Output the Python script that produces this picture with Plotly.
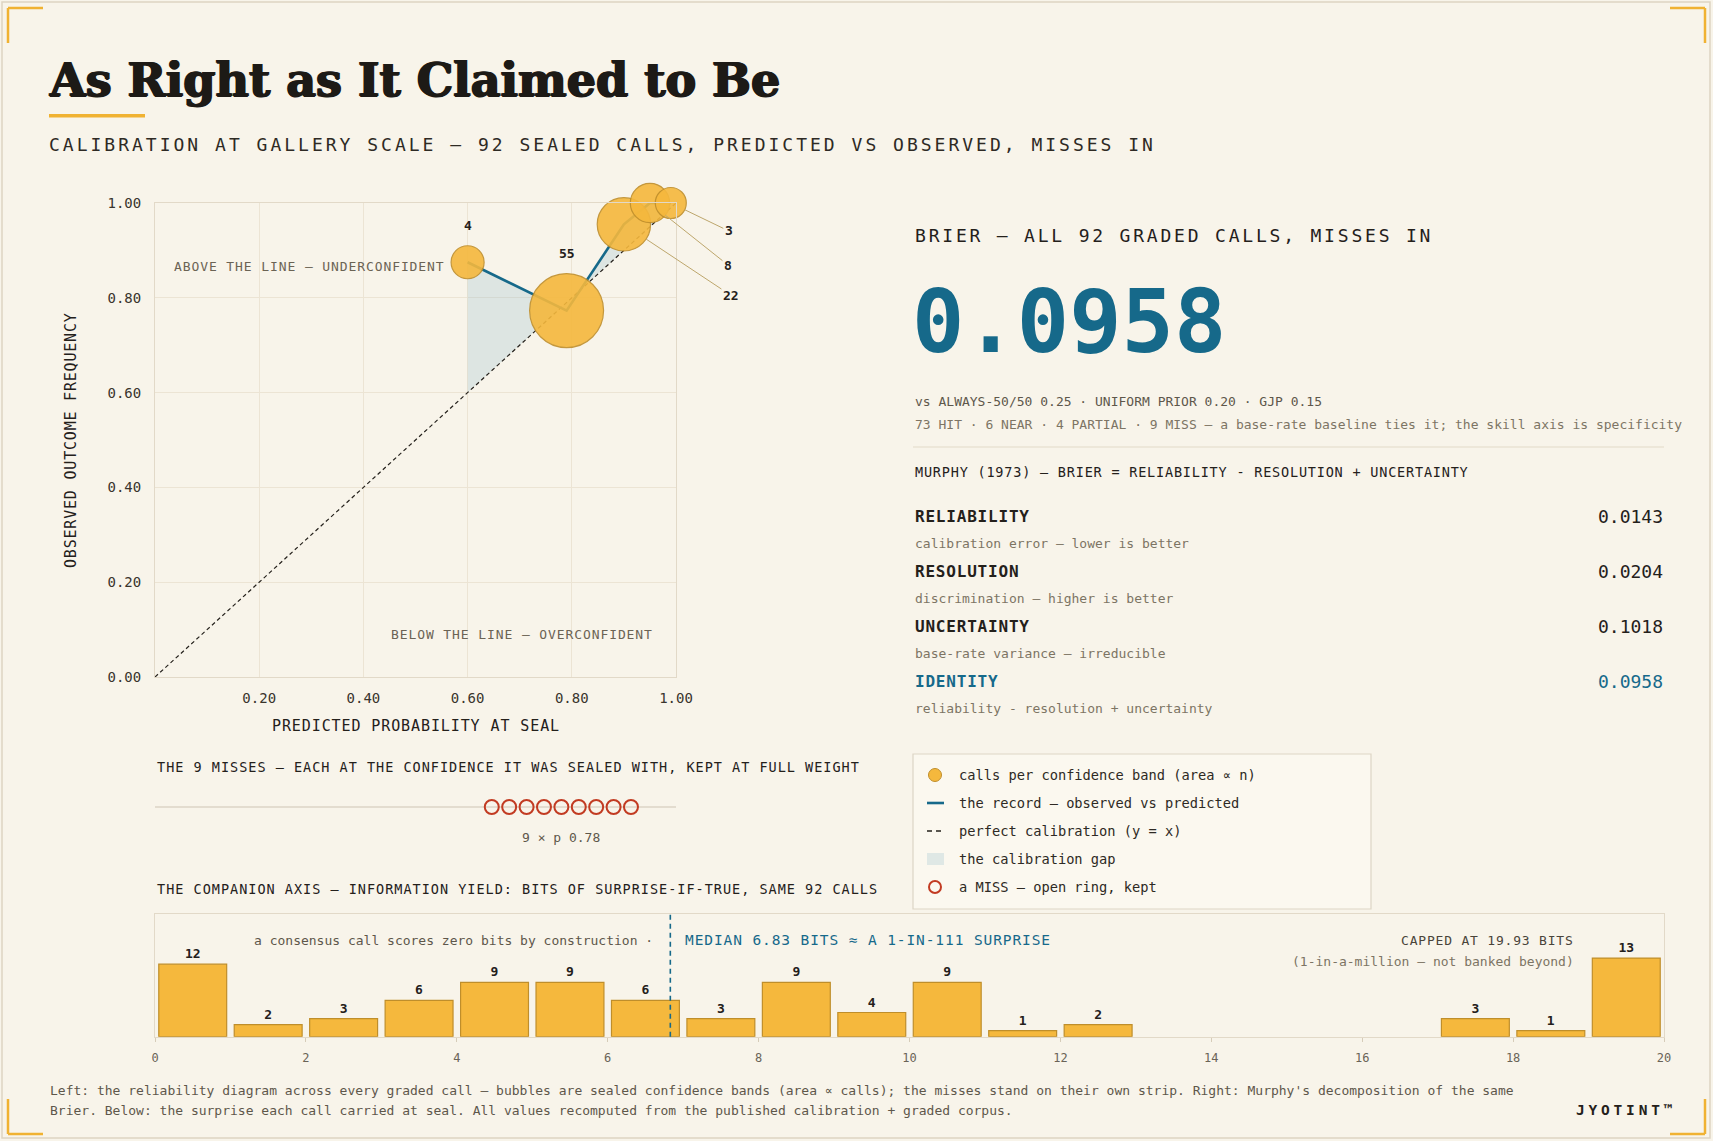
import numpy as np
import plotly.graph_objects as go

# === Dados === #
band_p = [0.60, 0.79, 0.90, 0.95, 0.99]        # predicted probability at seal
band_obs = [0.875, 0.773, 0.955, 1.00, 1.00]   # observed outcome frequency
band_n = [4, 55, 22, 8, 3]                     # calls per confidence band

miss_p = [0.78, 0.78, 0.78, 0.78, 0.78, 0.78, 0.78, 0.78, 0.78]

bits_left = list(range(20))                    # left edge of each 1-bit bin
bits_counts = [12, 2, 3, 6, 9, 9, 6, 3, 9, 4, 9, 1, 2, 0, 0, 0, 0, 3, 1, 13]
bits_median = 6.83

brier = 0.0958
murphy_terms = ["RELIABILITY", "RESOLUTION", "UNCERTAINTY", "IDENTITY"]
murphy_values = [0.0143, 0.0204, 0.1018, 0.0958]
murphy_notes = [
    "calibration error — lower is better",
    "discrimination — higher is better",
    "base-rate variance — irreducible",
    "reliability - resolution + uncertainty",
]

p_ticks = [0.2, 0.4, 0.6, 0.8, 1.0]
obs_ticks = [0.0, 0.2, 0.4, 0.6, 0.8, 1.0]
bits_ticks = [0, 2, 4, 6, 8, 10, 12, 14, 16, 18, 20]

# === Estilo === #
W, H = 1713, 1141
BG = "#f8f4ea"
INK = "#24201b"
GREY = "#5e574b"
SOFT = "#7d7464"
TEAL = "#16698a"
GOLD = "#f5b83d"
GOLD_EDGE = "#bf8e2b"
RED = "#c23b22"
RULE = "#e2d9c8"
GRID = "#ece4d4"
GAP = "rgba(150,190,205,0.28)"
MONO = "DejaVu Sans Mono"


def fx(p):
    return p / W


def fy(p):
    return 1 - p / H


def sp(text, px):
    return f"<span style='letter-spacing:{px}px'>{text}</span>"


annotations = []
shapes = []


def note(x, y, text, size=13, color=INK, anchor="left", weight="normal",
         family=MONO, **kw):
    annotations.append(dict(
        x=fx(x), y=fy(y), xref="paper", yref="paper", text=text,
        showarrow=False, xanchor=anchor, yanchor="middle",
        font=dict(family=family, size=size, color=color, weight=weight, **kw.pop("font", {})), **kw))


def pline(x0, y0, x1, y1, color, width=1, dash="solid"):
    shapes.append(dict(type="line", xref="paper", yref="paper",
                       x0=fx(x0), y0=fy(y0), x1=fx(x1), y1=fy(y1),
                       line=dict(color=color, width=width, dash=dash)))


fig = go.Figure()

# --- reliability diagram --- #
diag = [0, 1]
fig.add_trace(go.Scatter(
    x=band_p + band_p[::-1], y=band_obs + band_p[::-1],
    fill="toself", fillcolor=GAP, line=dict(width=0), mode="lines",
    hoverinfo="skip", xaxis="x", yaxis="y"))
fig.add_trace(go.Scatter(
    x=diag, y=diag, mode="lines", line=dict(color=INK, width=1.2, dash="4px,3px"),
    xaxis="x", yaxis="y", cliponaxis=False))
fig.add_trace(go.Scatter(
    x=band_p, y=band_obs, mode="lines", line=dict(color=TEAL, width=2.6),
    xaxis="x", yaxis="y", cliponaxis=False))
diam = [17.9 + 7.56 * np.sqrt(n) for n in band_n]
order = np.argsort(band_n)[::-1]
fig.add_trace(go.Scatter(
    x=[band_p[i] for i in order], y=[band_obs[i] for i in order], mode="markers",
    marker=dict(size=[diam[i] for i in order], color=GOLD, opacity=0.9,
                line=dict(color=GOLD_EDGE, width=1.2)),
    xaxis="x", yaxis="y", cliponaxis=False))

leader = {22: (107, 71), 8: (78, 62), 3: (58, 28)}
for p, o, n, d in zip(band_p, band_obs, band_n, diam):
    if n in leader:
        ax, ay = leader[n]
        annotations.append(dict(
            x=p, y=o, xref="x", yref="y", text=str(n), showarrow=True,
            arrowhead=0, arrowwidth=1, arrowcolor="#bda66c", ax=ax, ay=ay,
            standoff=d / 2, font=dict(family=MONO, size=13, color=INK, weight="bold")))
    else:
        annotations.append(dict(
            x=p, y=o, xref="x", yref="y", text=str(n), showarrow=False,
            yshift=d / 2 + 20, font=dict(family=MONO, size=13, color=INK, weight="bold")))

note(447, 266, sp("ABOVE THE LINE — UNDERCONFIDENT", 0.9), size=13, color="#6b6354", anchor="right")
note(655, 634, sp("BELOW THE LINE — OVERCONFIDENT", 0.9), size=13, color="#6b6354", anchor="right")
note(415.5, 726, sp("PREDICTED PROBABILITY AT SEAL", 0.9), size=15, color=INK, anchor="center")
annotations.append(dict(
    x=fx(71), y=fy(440), xref="paper", yref="paper", text=sp("OBSERVED OUTCOME FREQUENCY", 0.8),
    showarrow=False, textangle=-90, xanchor="center", yanchor="middle",
    font=dict(family=MONO, size=15, color=INK)))

# --- misses strip --- #
step = 17.4 / 521
miss_x = [p + (i - (len(miss_p) - 1) / 2) * step for i, p in enumerate(miss_p)]
shapes.append(dict(type="line", xref="x2", yref="y2", x0=0, x1=1, y0=0, y1=0,
                   line=dict(color="#ddd5c6", width=1.5), layer="below"))
fig.add_trace(go.Scatter(
    x=miss_x, y=[0] * len(miss_p), mode="markers",
    marker=dict(symbol="circle-open", size=14, color=RED, line=dict(width=2)),
    xaxis="x2", yaxis="y2", cliponaxis=False))
annotations.append(dict(
    x=miss_p[0], y=fy(837), xref="x2", yref="paper",
    text=f"{len(miss_p)} × p {miss_p[0]:.2f}", showarrow=False, yanchor="middle",
    font=dict(family=MONO, size=13, color=GREY)))
note(155, 767, sp("THE 9 MISSES — EACH AT THE CONFIDENCE IT WAS SEALED WITH, KEPT AT FULL WEIGHT", 1.0),
     size=13.5, color=INK)
note(155, 889, sp("THE COMPANION AXIS — INFORMATION YIELD: BITS OF SURPRISE-IF-TRUE, SAME 92 CALLS", 1.0),
     size=13.5, color=INK)

# --- bits histogram --- #
bx = [b + 0.5 for b, c in zip(bits_left, bits_counts) if c > 0]
by = [c for c in bits_counts if c > 0]
fig.add_trace(go.Bar(
    x=bx, y=by, width=0.9, text=[str(c) for c in by], textposition="outside",
    textfont=dict(family=MONO, size=13, color=INK, weight="bold"),
    marker=dict(color=GOLD, line=dict(color=GOLD_EDGE, width=1.2)),
    xaxis="x3", yaxis="y3", cliponaxis=False))
shapes.append(dict(type="line", xref="x3", yref="y3 domain", x0=bits_median, x1=bits_median,
                   y0=0, y1=1, line=dict(color=TEAL, width=1.6, dash="5px,4px")))
note(655, 940, "a consensus call scores zero bits by construction ·", size=13, color=GREY, anchor="right")
note(683, 940, sp(f"MEDIAN {bits_median:.2f} BITS ≈ A 1-IN-111 SURPRISE", 0.9), size=14.5, color=TEAL)
note(1576, 940, sp("CAPPED AT 19.93 BITS", 0.8), size=13, color="#4a443a", anchor="right")
note(1576, 961, "(1-in-a-million — not banked beyond)", size=13, color=SOFT, anchor="right")

# --- right panel: Brier + Murphy --- #
note(913, 235, sp("BRIER — ALL 92 GRADED CALLS, MISSES IN", 2.8), size=18, color=INK)
note(910, 322, f"{brier:.4f}", size=87, color=TEAL, weight="bold")
note(913, 401, "vs ALWAYS-50/50 0.25 · UNIFORM PRIOR 0.20 · GJP 0.15", size=13, color=GREY)
note(913, 425, "73 HIT · 6 NEAR · 4 PARTIAL · 9 MISS — a base-rate baseline ties it; the skill axis is specificity",
     size=13, color=SOFT)
pline(913, 447, 1664, 447, RULE, 1.2)
note(913, 472, sp("MURPHY (1973) — BRIER = RELIABILITY - RESOLUTION + UNCERTAINTY", 0.8), size=13.5, color=INK)
for i, (term, val, sub) in enumerate(zip(murphy_terms, murphy_values, murphy_notes)):
    y = 516 + i * 55.3
    col = TEAL if term == "IDENTITY" else INK
    note(913, y, sp(term, 0.8), size=16, color=col, weight="bold")
    note(1665, y, f"{val:.4f}", size=18, color=col, anchor="right")
    note(913, y + 27, sub, size=13, color=SOFT)

# --- legend box --- #
shapes.append(dict(type="rect", xref="paper", yref="paper", x0=fx(913), x1=fx(1371),
                   y0=fy(909), y1=fy(754), line=dict(color="#ddd5c5", width=1.2),
                   fillcolor="rgba(255,253,247,0.45)"))
shapes.append(dict(type="circle", xref="paper", yref="paper", x0=fx(928.5), x1=fx(941.5),
                   y0=fy(781.5), y1=fy(768.5), fillcolor=GOLD, line=dict(color=GOLD_EDGE, width=1)))
pline(927, 803, 944, 803, TEAL, 2.6)
pline(927, 831, 944, 831, INK, 1.5, "5px,4px")
shapes.append(dict(type="rect", xref="paper", yref="paper", x0=fx(927), x1=fx(944),
                   y0=fy(865), y1=fy(853), fillcolor=GAP, line=dict(width=0)))
shapes.append(dict(type="circle", xref="paper", yref="paper", x0=fx(929), x1=fx(941),
                   y0=fy(893), y1=fy(881), line=dict(color=RED, width=2)))
legend_items = ["calls per confidence band (area ∝ n)", "the record — observed vs predicted",
                "perfect calibration (y = x)", "the calibration gap", "a MISS — open ring, kept"]
for t, y in zip(legend_items, [775, 803, 831, 859, 887]):
    note(957, y, t, size=13.7, color="#2e2a24")

# --- heading, footer, frame --- #
note(47, 80, "As Right as It Claimed to Be", size=46, color="#1d1a16", weight="bold", family="DejaVu Serif",
     font=dict(shadow="1px 0 0 #1d1a16, -1px 0 0 #1d1a16, 0 0.5px 0 #1d1a16"))
shapes.append(dict(type="rect", xref="paper", yref="paper", x0=fx(49), x1=fx(145),
                   y0=fy(117.5), y1=fy(114), fillcolor="#f0b232", line=dict(width=0)))
note(47, 144, sp("CALIBRATION AT GALLERY SCALE — 92 SEALED CALLS, PREDICTED VS OBSERVED, MISSES IN", 3.0),
     size=18, color="#2e2a24")
note(48, 1090, "Left: the reliability diagram across every graded call — bubbles are sealed confidence bands "
     "(area ∝ calls); the misses stand on their own strip. Right: Murphy's decomposition of the same",
     size=13, color=GREY)
note(48, 1110, "Brier. Below: the surprise each call carried at seal. All values recomputed from the "
     "published calibration + graded corpus.", size=13, color=GREY)
note(1678, 1110, sp("JYOTINT™", 3.8), size=14.5, color=INK, anchor="right", weight="bold")

shapes.append(dict(type="rect", xref="paper", yref="paper", x0=fx(2), x1=fx(1710),
                   y0=fy(1138), y1=fy(2), line=dict(color="#ddd4c2", width=1.5)))
for cx, cy, dx, dy in [(8, 8, 1, 1), (1705, 8, -1, 1), (8, 1134, 1, -1), (1705, 1134, -1, -1)]:
    pline(cx, cy, cx + 35 * dx, cy, "#f0b232", 2.5)
    pline(cx, cy, cx, cy + 35 * dy, "#f0b232", 2.5)

# === Layout === #
axis_common = dict(zeroline=False, showline=True, mirror=True, linecolor=RULE, linewidth=1,
                   gridcolor=GRID, gridwidth=1, ticks="",
                   tickfont=dict(family=MONO, size=14, color="#3a352d"))
fig.update_layout(
    width=W, height=H, margin=dict(l=0, r=0, t=0, b=0, autoexpand=False),
    paper_bgcolor=BG, plot_bgcolor="rgba(0,0,0,0)", showlegend=False,
    xaxis=dict(domain=[fx(155), fx(676)], range=[0, 1], tickvals=p_ticks, tickformat=".2f",
               ticklabelstandoff=8, anchor="y", **axis_common),
    yaxis=dict(domain=[fy(677), fy(203)], range=[0, 1], tickvals=obs_ticks, tickformat=".2f",
               ticklabelstandoff=10, anchor="x", **axis_common),
    xaxis2=dict(domain=[fx(155), fx(676)], range=[0, 1], visible=False, anchor="y2"),
    yaxis2=dict(domain=[fy(827), fy(787)], range=[-1, 1], visible=False, anchor="x2"),
    xaxis3=dict(domain=[fx(155), fx(1664)], range=[0, 20], tickvals=bits_ticks, showgrid=False,
                zeroline=False, showline=True, mirror=True, linecolor=RULE, ticks="outside",
                ticklen=4, tickcolor="#d6ccb9", ticklabelstandoff=6, anchor="y3",
                tickfont=dict(family=MONO, size=12, color="#6a6357")),
    yaxis3=dict(domain=[fy(1036.7), fy(914)], range=[0, 20.3], showgrid=False, zeroline=False,
                showticklabels=False, showline=True, mirror=True, linecolor=RULE, anchor="x3"),
    annotations=annotations, shapes=shapes,
    bargap=0.1,
)

page_css = (
    "for (const el of [document.documentElement, document.body]) {"
    " el.style.margin='0'; el.style.padding='0'; el.style.overflow='hidden';"
    f" el.style.background='{BG}'; }}"
)
fig.write_html("out.html", config={"displayModeBar": False}, post_script=page_css)
